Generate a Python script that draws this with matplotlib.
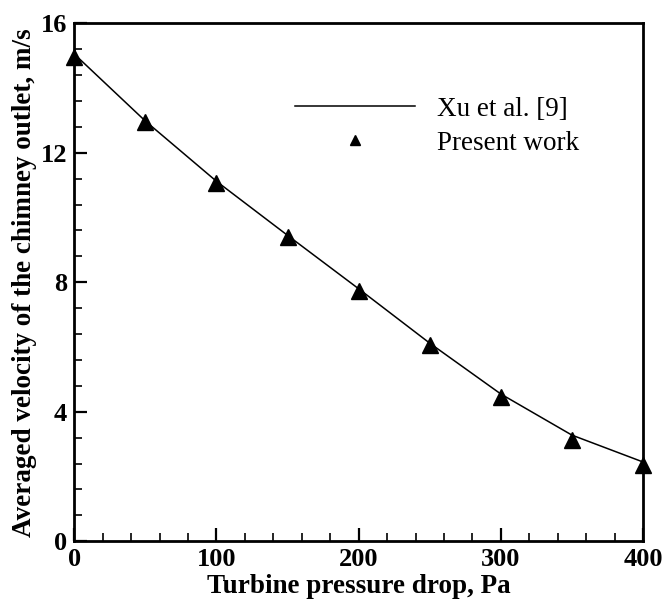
import matplotlib
matplotlib.use("Agg")
import matplotlib.pyplot as plt
from matplotlib.ticker import MultipleLocator

# pressure drop (Pa)
pressure_drop = [0, 50, 100, 150, 200, 250, 300, 350, 400]
# Xu et al. [9] curve
velocity_xu = [15.05, 12.98, 11.12, 9.45, 7.80, 6.12, 4.55, 3.28, 2.45]
# present work
velocity_present = [14.95, 12.95, 11.07, 9.40, 7.73, 6.06, 4.46, 3.13, 2.35]

x_ticks = [0, 100, 200, 300, 400]
y_ticks = [0, 4, 8, 12, 16]

plt.rcParams['font.family'] = ['Liberation Serif', 'DejaVu Serif']

fig = plt.figure(figsize=(6.65, 6.05), dpi=100)
ax = fig.add_axes([74.3 / 665, (605 - 541.3) / 605, 568.7 / 665, 518 / 605])

ax.plot(pressure_drop, velocity_xu, color='black', linewidth=1.1, label='Xu et al. [9]')
ax.plot(pressure_drop, velocity_present, linestyle='none', marker='^', markersize=11,
        color='black', label='Present work', clip_on=False, zorder=5)

ax.set_xlim(0, 400)
ax.set_ylim(0, 16)
ax.set_xticks(x_ticks)
ax.set_yticks(y_ticks)
ax.xaxis.set_minor_locator(MultipleLocator(20))
ax.yaxis.set_minor_locator(MultipleLocator(0.8))

for s in ax.spines.values():
    s.set_linewidth(2)
ax.tick_params(which='both', direction='in', top=False, right=False)
ax.tick_params(which='major', length=9.5, width=1.6, labelsize=19)
ax.tick_params(which='minor', length=5.5, width=1.2)
ax.tick_params(axis='x', which='major', pad=5)
ax.tick_params(axis='y', which='major', pad=5)
for lab in ax.get_xticklabels() + ax.get_yticklabels():
    lab.set_fontweight('bold')

ax.set_xlabel('Turbine pressure drop, Pa', fontsize=19.5, fontweight='bold', labelpad=2)
ax.set_ylabel('Averaged velocity of the chimney outlet, m/s', fontsize=19.5,
              fontweight='bold', labelpad=3)

ax.legend(loc='upper left', bbox_to_anchor=(0.388, 0.858), frameon=False, fontsize=19.5,
          handlelength=4.43, handletextpad=0.8, labelspacing=0.32, borderpad=0,
          borderaxespad=0, markerscale=0.65)

fig.savefig('out.png', dpi=100)
